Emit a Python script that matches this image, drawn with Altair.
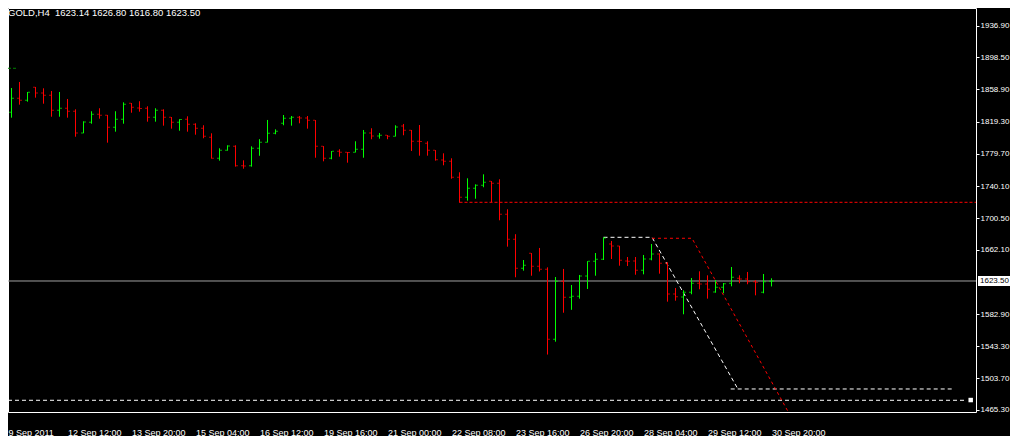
import altair as alt
import pandas as pd

# ---- OHLC values (H4 bars) ----
opens = [1882.8, 1830.8, 1848.0, 1845.6, 1861.6, 1854.6, 1851.7, 1833.3, 1835.8, 1832.1,
         1805.4, 1818.5, 1828.4, 1827.2, 1812.4, 1822.2, 1841.9, 1836.1, 1835.8, 1824.7,
         1833.3, 1824.7, 1818.5, 1822.2, 1816.1, 1811.2, 1800.1, 1774.3, 1784.1, 1789.0,
         1765.2, 1765.2, 1786.6, 1794.0, 1805.0, 1817.3, 1823.5, 1824.7, 1823.8, 1821.0,
         1789.0, 1774.3, 1782.9, 1781.7, 1781.7, 1785.4, 1805.4, 1801.7, 1802.6, 1801.3,
         1814.0, 1808.7, 1795.2, 1792.7, 1784.1, 1772.2, 1770.6, 1751.0, 1726.4, 1737.4,
         1741.1, 1746.0, 1743.6, 1705.5, 1674.8, 1639.1, 1657.5, 1641.7, 1637.9, 1552.0,
         1623.1, 1603.6, 1604.8, 1629.6, 1647.7, 1650.2, 1669.0, 1666.5, 1648.1, 1648.1,
         1636.7, 1650.5, 1656.7, 1645.3, 1607.5, 1603.8, 1609.6, 1620.7, 1619.8, 1610.0,
         1615.8, 1620.7, 1626.8, 1626.0, 1622.6, 1609.6, 1623.14]
highs = [1884.0, 1860.7, 1868.1, 1855.8, 1862.0, 1860.3, 1857.0, 1855.8, 1847.2, 1834.5,
         1819.8, 1832.1, 1835.8, 1827.6, 1832.1, 1843.1, 1842.2, 1844.4, 1838.2, 1835.8,
         1834.5, 1825.0, 1822.4, 1825.9, 1817.3, 1814.9, 1805.0, 1786.6, 1790.3, 1790.3,
         1771.8, 1789.0, 1797.8, 1821.4, 1809.9, 1827.5, 1826.3, 1826.3, 1826.3, 1821.3,
         1789.3, 1783.2, 1785.4, 1782.0, 1795.2, 1809.1, 1811.2, 1805.4, 1802.9, 1814.9,
         1816.5, 1809.1, 1815.2, 1795.2, 1784.4, 1780.4, 1774.3, 1757.1, 1749.7, 1742.3,
         1754.6, 1746.3, 1748.5, 1711.6, 1681.0, 1649.3, 1657.8, 1664.1, 1640.3, 1628.4,
         1638.3, 1618.6, 1630.9, 1647.9, 1657.9, 1677.2, 1672.7, 1666.8, 1653.0, 1653.0,
         1655.5, 1669.0, 1657.5, 1646.5, 1614.9, 1612.1, 1627.2, 1635.4, 1630.5, 1624.7,
         1621.0, 1640.7, 1630.5, 1634.6, 1624.7, 1632.1, 1626.80]
lows = [1822.6, 1824.2, 1840.2, 1843.9, 1848.8, 1841.4, 1825.4, 1825.4, 1824.2, 1800.8,
        1805.0, 1816.8, 1823.0, 1793.5, 1807.0, 1816.8, 1830.3, 1831.6, 1819.3, 1819.3,
        1814.4, 1810.7, 1808.2, 1807.0, 1803.3, 1798.9, 1773.8, 1771.4, 1783.6, 1764.0,
        1761.5, 1764.0, 1777.4, 1793.6, 1803.8, 1814.9, 1814.4, 1817.3, 1810.7, 1775.0,
        1770.6, 1773.1, 1776.3, 1768.9, 1781.4, 1775.0, 1797.7, 1798.4, 1797.7, 1801.0,
        1802.6, 1783.3, 1777.5, 1777.5, 1771.4, 1765.7, 1749.2, 1719.7, 1722.2, 1724.6,
        1738.7, 1720.2, 1698.1, 1665.7, 1628.1, 1636.2, 1630.0, 1635.2, 1533.1, 1548.9,
        1584.5, 1588.1, 1601.8, 1613.7, 1630.0, 1649.3, 1650.5, 1642.3, 1641.9, 1631.2,
        1631.7, 1648.9, 1632.5, 1598.1, 1599.3, 1582.6, 1607.2, 1613.3, 1601.8, 1609.1,
        1608.4, 1617.0, 1620.7, 1619.5, 1605.9, 1608.4, 1616.80]
closes = [1831.2, 1848.0, 1845.6, 1855.4, 1854.6, 1851.7, 1833.3, 1835.8, 1832.1, 1805.4,
          1818.9, 1828.4, 1827.2, 1812.4, 1822.2, 1840.7, 1837.0, 1835.4, 1824.7, 1833.3,
          1824.7, 1818.5, 1822.0, 1816.1, 1811.2, 1801.3, 1774.3, 1784.1, 1789.4, 1765.2,
          1764.9, 1786.6, 1794.0, 1805.0, 1807.5, 1823.5, 1824.7, 1823.8, 1821.0, 1789.0,
          1774.3, 1782.9, 1781.7, 1781.4, 1785.4, 1805.4, 1801.7, 1802.6, 1801.3, 1812.8,
          1808.7, 1795.2, 1795.0, 1784.1, 1772.6, 1770.6, 1751.0, 1726.4, 1737.4, 1741.1,
          1744.8, 1743.6, 1705.5, 1674.8, 1639.1, 1642.9, 1641.7, 1637.9, 1552.0, 1623.1,
          1603.6, 1604.8, 1629.6, 1647.7, 1650.2, 1676.4, 1666.5, 1648.9, 1647.8, 1636.7,
          1650.5, 1656.7, 1645.3, 1607.5, 1604.2, 1609.6, 1620.7, 1619.8, 1613.3, 1615.8,
          1620.2, 1628.1, 1626.0, 1622.6, 1621.9, 1622.6, 1623.50]

# ---- axis texts ----
time_labels = ["9 Sep 2011", "12 Sep 12:00", "13 Sep 20:00", "15 Sep 04:00", "16 Sep 12:00",
               "19 Sep 16:00", "21 Sep 00:00", "22 Sep 08:00", "23 Sep 16:00", "26 Sep 20:00",
               "28 Sep 04:00", "29 Sep 12:00", "30 Sep 20:00"]
label_bars = [0, 8, 16, 24, 32, 40, 48, 56, 64, 72, 80, 88, 96]
price_ticks = [1936.90, 1898.50, 1858.90, 1819.30, 1779.70, 1740.10, 1700.50, 1662.10,
               1582.90, 1543.30, 1503.70, 1465.30]
bid_price = [1623.50]
bid_text = ["1623.50"]
title_text = ["GOLD,H4\u00a0\u00a01623.14 1626.80 1616.80 1623.50"]

# visible window (bar index / price)
X_MIN, X_MAX = 0.5625, 121.5625
P_MIN, P_MAX = 1462.5, 1959.0

# ---- drawn objects ----
red_level_x = [57, X_MAX]
red_level_p = [1720.2]
green_level_x = [X_MIN, 1.8]
green_level_p = [1884.9]
white_levels_x0 = [X_MIN, 90.9]
white_levels_x1 = [120.4, 118.9]
white_levels_p = [1476.9, 1490.8]
white_channel_x = [75, 81.06, 91.8]
white_channel_p = [1677.2, 1677.2, 1490.8]
red_channel_x = [81.06, 86.06, 98.1]
red_channel_p = [1676.0, 1676.0, 1462.5]
marker_x = [120.9]
marker_p = [1477.2]

# ---- tables ----
n = len(opens)
bars = pd.DataFrame({"i": list(range(n)), "o": opens, "h": highs, "l": lows, "c": closes})
bars["dir"] = ["up" if c > o else "down" for o, c in zip(opens, closes)]

label_pos = [X_MIN] + label_bars[1:]
label_expr = ("[" + ",".join("'" + s + "'" for s in time_labels) + "][indexof(["
              + ",".join(repr(float(v)) for v in label_pos) + "], datum.value)]")

xs = alt.Scale(domain=[X_MIN, X_MAX], nice=False, zero=False)
ys = alt.Scale(domain=[P_MIN, P_MAX], nice=False, zero=False)
x_axis = alt.Axis(values=label_pos, labelExpr=label_expr, ticks=False, labelPadding=16,
                  labelAlign="left", labelBaseline="top", labelFlush=False,
                  labelOverlap=False, labelBound=False, grid=False, domain=False,
                  labelFontSize=9)
y_axis = alt.Axis(orient="right", values=price_ticks, format=".2f", tickSize=3,
                  labelPadding=1, labelBaseline="middle", labelOverlap=False,
                  labelFlush=False, labelBound=False, grid=False, domain=False,
                  labelFontSize=8)


def X(f):
    return alt.X(f, type="quantitative", scale=xs, axis=x_axis, title=None)


def Y(f):
    return alt.Y(f, type="quantitative", scale=ys, axis=y_axis, title=None)


col = alt.Color("dir:N", scale=alt.Scale(domain=["up", "down"], range=["#00ff00", "#ff0000"]),
                legend=None)

base = alt.Chart(bars)
hl = base.mark_rule(strokeWidth=1, clip=True).encode(x=X("i"), y=Y("l"), y2="h", color=col)
op = base.mark_tick(orient="horizontal", size=2, thickness=1, xOffset=-1.5, clip=True).encode(
    x=X("i"), y=Y("o"), color=col)
cl = base.mark_tick(orient="horizontal", size=2, thickness=1, xOffset=1.5, clip=True).encode(
    x=X("i"), y=Y("c"), color=col)

bid_df = pd.DataFrame({"p": bid_price, "t": bid_text})
bid_line = alt.Chart(bid_df).mark_rule(color="#a0a0a0", strokeWidth=1, clip=True).encode(y=Y("p"))

red_lv = alt.Chart(pd.DataFrame({"x0": [red_level_x[0]], "x1": [red_level_x[1]], "p": red_level_p})).mark_rule(
    color="#ff0000", strokeDash=[3, 2], strokeWidth=1, clip=True).encode(x=X("x0"), x2="x1", y=Y("p"))
green_lv = alt.Chart(pd.DataFrame({"x0": [green_level_x[0]], "x1": [green_level_x[1]], "p": green_level_p})).mark_rule(
    color="#008000", strokeDash=[3, 2], strokeWidth=1, clip=True).encode(x=X("x0"), x2="x1", y=Y("p"))
white_lv = alt.Chart(pd.DataFrame({"x0": white_levels_x0, "x1": white_levels_x1, "p": white_levels_p})).mark_rule(
    color="white", strokeDash=[4, 3], strokeWidth=1, clip=True).encode(x=X("x0"), x2="x1", y=Y("p"))

white_ch = alt.Chart(pd.DataFrame({"x": white_channel_x, "p": white_channel_p})).mark_line(
    color="white", strokeDash=[4, 3], strokeWidth=1, clip=True).encode(x=X("x"), y=Y("p"))
red_ch = alt.Chart(pd.DataFrame({"x": red_channel_x, "p": red_channel_p})).mark_line(
    color="#ff0000", strokeDash=[3, 3], strokeWidth=1, clip=True).encode(x=X("x"), y=Y("p"))

marker = alt.Chart(pd.DataFrame({"x": marker_x, "p": marker_p})).mark_point(
    shape="square", filled=True, color="white", size=20, opacity=1).encode(x=X("x"), y=Y("p"))

title = alt.Chart(pd.DataFrame({"t": title_text})).mark_text(
    align="left", baseline="top", color="white", font="Liberation Sans", fontSize=9.5).encode(
    x=alt.value(0), y=alt.value(0), text="t:N")

bid_box = alt.Chart(bid_df).mark_rect(color="white", yOffset=-5, y2Offset=5).encode(
    x=alt.value(970), x2=alt.value(1002), y=Y("p"), y2="p")
bid_lab = alt.Chart(bid_df).mark_text(
    align="left", baseline="middle", color="black", font="Liberation Sans", fontSize=8).encode(
    x=alt.value(972), y=Y("p"), text="t:N")

chart = alt.layer(
    bid_line, red_lv, green_lv, white_lv, white_ch, red_ch, hl, op, cl, marker, title, bid_box, bid_lab
).properties(
    width=968, height=404,
    autosize=alt.AutoSizeParams(type="none"),
    padding={"left": 0, "top": 0, "right": 34, "bottom": 24}
).configure(
    background="black"
).configure_view(
    stroke="white", strokeWidth=1
).configure_axis(
    labelFont="Liberation Sans", labelColor="white", tickColor="white", tickWidth=1
)

chart.save("out.html", embed_options={"renderer": "svg", "actions": False})
